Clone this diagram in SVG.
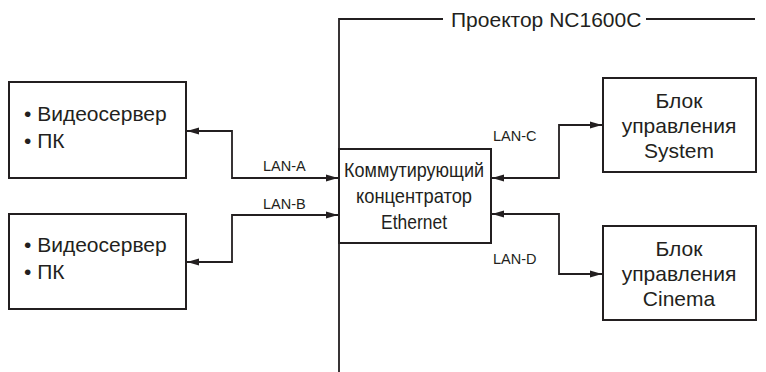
<svg xmlns="http://www.w3.org/2000/svg" width="766" height="372" viewBox="0 0 766 372">
<style>
.box{fill:#fff;stroke:#231f20;stroke-width:2}
.ln{fill:none;stroke:#231f20;stroke-width:1.8}
.t{font-family:"Liberation Sans",Arial,sans-serif;font-size:21px;fill:#231f20}
.c{text-anchor:middle}
.lab{font-family:"Liberation Sans",Arial,sans-serif;font-size:14.5px;fill:#231f20}
</style>
<defs>
<marker id="ah" markerUnits="userSpaceOnUse" markerWidth="13" markerHeight="8" refX="12" refY="4" orient="auto-start-reverse">
<path d="M0,0.5 L12,4 L0,7.5 z" fill="#231f20"/>
</marker>
</defs>
<g id="projector-frame">
<path class="ln" d="M339,372 V19 H443 M646,19 H755"/>
<text class="t" x="451" y="27">Проектор NC1600C</text>
</g>
<g id="connectors">
<path class="ln" d="M187,131 H232 V178 H338" marker-start="url(#ah)" marker-end="url(#ah)"/>
<path class="ln" d="M187,262 H232 V215 H338" marker-start="url(#ah)" marker-end="url(#ah)"/>
<path class="ln" d="M492,178 H559 V125 H602" marker-start="url(#ah)" marker-end="url(#ah)"/>
<path class="ln" d="M492,214 H559 V274 H602" marker-start="url(#ah)" marker-end="url(#ah)"/>
<text class="lab" x="263" y="171">LAN-A</text>
<text class="lab" x="263" y="209">LAN-B</text>
<text class="lab" x="493" y="141">LAN-C</text>
<text class="lab" x="493" y="264">LAN-D</text>
</g>
<g id="server1">
<rect class="box" x="9" y="82" width="177" height="96"/>
<text class="t" x="24" y="121">• Видеосервер</text>
<text class="t" x="24" y="148">• ПК</text>
</g>
<g id="server2">
<rect class="box" x="9" y="214" width="177" height="95"/>
<text class="t" x="24" y="252">• Видеосервер</text>
<text class="t" x="24" y="279">• ПК</text>
</g>
<g id="hub">
<rect class="box" x="339" y="149" width="152" height="94"/>
<text class="t c" x="414" y="177" textLength="140" lengthAdjust="spacingAndGlyphs">Коммутирующий</text>
<text class="t c" x="414" y="203" textLength="116" lengthAdjust="spacingAndGlyphs">концентратор</text>
<text class="t c" x="414" y="229" textLength="66" lengthAdjust="spacingAndGlyphs">Ethernet</text>
</g>
<g id="system">
<rect class="box" x="603" y="78" width="153" height="94"/>
<text class="t c" x="679" y="108">Блок</text>
<text class="t c" x="679" y="133">управления</text>
<text class="t c" x="679" y="158">System</text>
</g>
<g id="cinema">
<rect class="box" x="603" y="226" width="153" height="94"/>
<text class="t c" x="679" y="256">Блок</text>
<text class="t c" x="679" y="281">управления</text>
<text class="t c" x="679" y="306">Cinema</text>
</g>
</svg>
